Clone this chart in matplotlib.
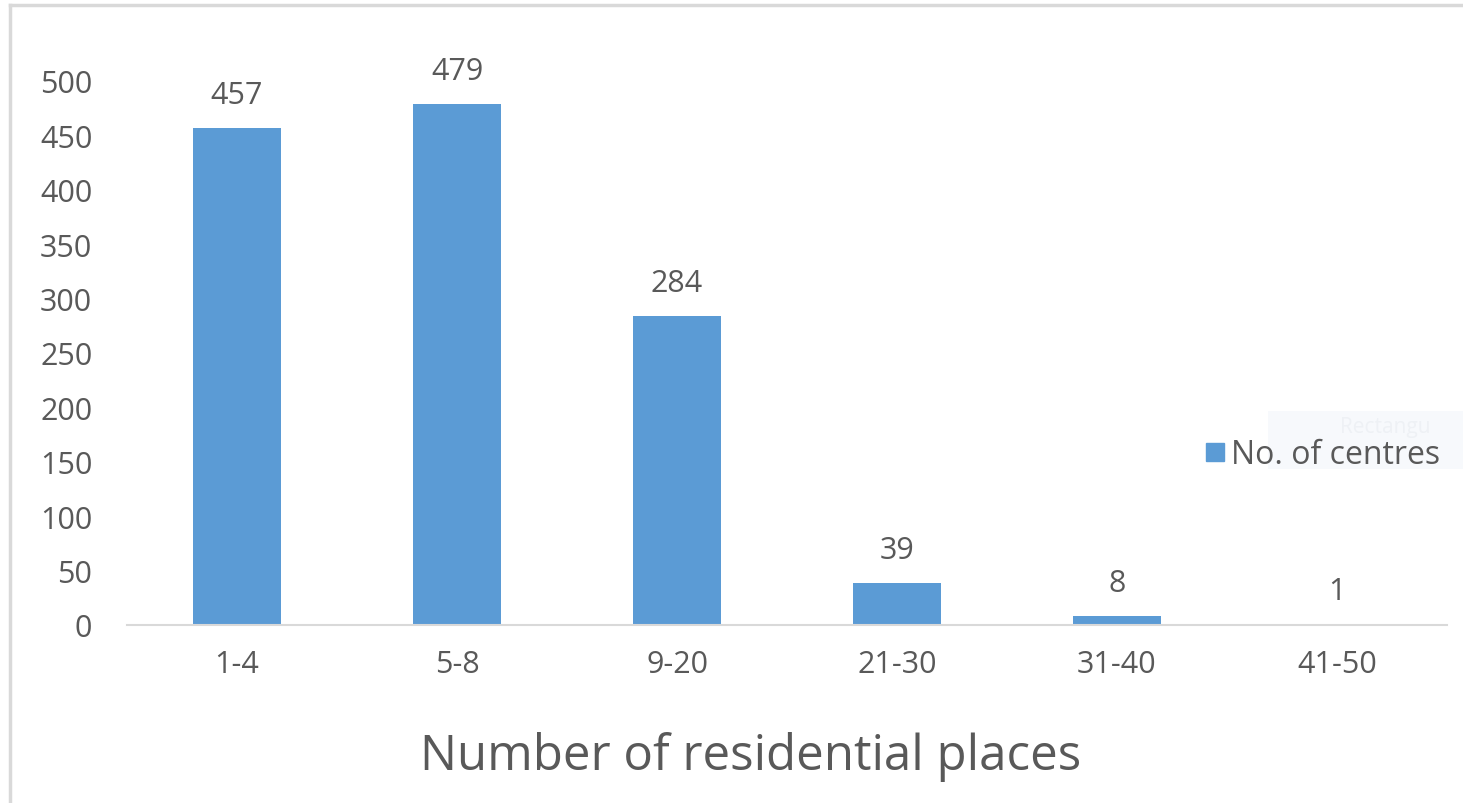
import matplotlib
matplotlib.use("Agg")
import matplotlib.pyplot as plt
from matplotlib.patches import Rectangle
from matplotlib.lines import Line2D

categories = ["1-4", "5-8", "9-20", "21-30", "31-40", "41-50"]
values = [457, 479, 284, 39, 8, 1]
series_name = "No. of centres"
xlabel = "Number of residential places"
yticks = [0, 50, 100, 150, 200, 250, 300, 350, 400, 450, 500]

FONT = ["Open Sans", "DejaVu Sans"]
TXT = "#595959"
BAR = "#5B9BD5"
FS = 22

fig = plt.figure(figsize=(14.63, 8.04), dpi=100)
ax = fig.add_axes([127/1463, 1 - 626/804, 1320/1463, (626 - 82)/804])

x = list(range(len(categories)))
ax.bar(x, values, width=0.4, color=BAR, zorder=2)
ax.set_xlim(-0.5, len(categories) - 0.5)
ax.set_ylim(0, 500)
ax.set_yticks(yticks)
ax.set_xticks(x)
ax.set_xticklabels(categories)

for s in ["top", "right", "left"]:
    ax.spines[s].set_visible(False)
ax.spines["bottom"].set_color("#D9D9D9")
ax.spines["bottom"].set_linewidth(1.5)
ax.tick_params(axis="both", length=0, labelsize=FS, colors=TXT)
ax.tick_params(axis="y", pad=25)
ax.tick_params(axis="x", pad=17)
for lab in ax.get_xticklabels() + ax.get_yticklabels():
    lab.set_family(FONT)

for xi, v in zip(x, values):
    ax.annotate(str(v), (xi, v), xytext=(0, 13), textcoords="offset points",
                ha="center", va="bottom", fontsize=FS, color=TXT,
                family=FONT, annotation_clip=False)

ax.set_xlabel(xlabel, fontsize=35.5, color=TXT, family=FONT, labelpad=38)
ax.xaxis.label.set_x((751 - 127) / 1320)

# faint overlay artifact box
fig.patches.append(Rectangle((1268/1463, 1 - 470/804), 200/1463, 58/804,
                             transform=fig.transFigure, facecolor="#F7F9FC",
                             edgecolor="none", zorder=0))
fig.text(1340/1463, 1 - 428/804, "Rectangu", fontsize=15, color="#EEF1F5",
         family=FONT, va="center", ha="left", zorder=1)

# legend
handle = Line2D([], [], marker="s", linestyle="none", markersize=13,
                markerfacecolor=BAR, markeredgecolor=BAR)
leg = fig.legend([handle], [series_name], loc="center left",
                 bbox_to_anchor=(1185/1463, 1 - 456/804), frameon=False,
                 prop={"family": FONT, "size": 23}, handletextpad=0.05,
                 handlelength=0.9, borderpad=0)
for t in leg.get_texts():
    t.set_color(TXT)

# outer frame (left and top)
fig.add_artist(Line2D([10/1463, 10/1463], [0, 1 - 6/804], transform=fig.transFigure,
                      color="#D9D9D9", linewidth=2.5))
fig.add_artist(Line2D([10/1463, 1], [1 - 6/804, 1 - 6/804], transform=fig.transFigure,
                      color="#D9D9D9", linewidth=2.5))

fig.savefig("out.png", dpi=100)
